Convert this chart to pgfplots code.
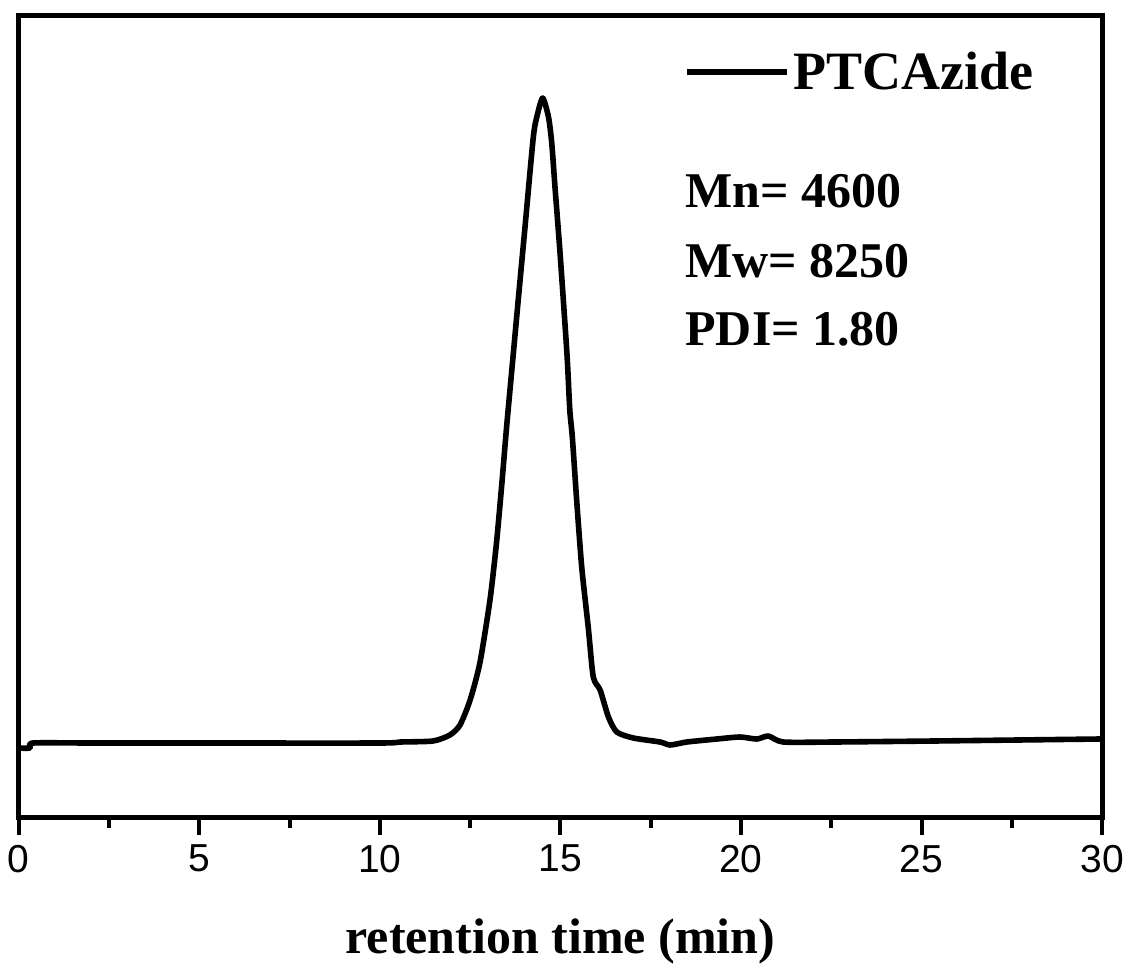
\documentclass[border=0pt]{standalone}
\usepackage{fontspec}
\setmainfont{Liberation Serif}
\newfontfamily\arial{Liberation Sans}
\usepackage{pgfplots}
\pgfplotsset{compat=1.18}
\begin{document}
\begin{tikzpicture}
\useasboundingbox (-9.35pt,-73.75pt) rectangle (554.65pt,408.75pt);
\begin{axis}[
  at={(0,0)}, anchor=south west,
  scale only axis,
  width=541.7pt, height=401pt,
  xmin=0, xmax=30, ymin=-2.5, ymax=799.5,
  axis line style={line width=2.6pt},
  xtick={0,5,...,30},
  minor x tick num=1,
  ytick=\empty,
  xtick pos=bottom,
  tick align=outside,
  major tick length=8.75pt,
  minor tick length=5pt,
  every tick/.style={line width=2pt, black},
  /pgf/number format/assume math mode=true,
  xticklabel style={font=\arial\fontsize{19.5}{22}\selectfont, yshift=-1.5pt},
  xlabel={\bfseries retention time (min)},
  xlabel style={font=\fontsize{25}{30}\selectfont, yshift=-16pt},
  legend style={draw=none, fill=none, at={(axis cs:18.24,743)}, anchor=west,
    font=\bfseries\fontsize{27}{32}\selectfont},
  legend image code/.code={\draw[line width=2.8pt] (-2.5pt,0pt) -- (47.5pt,0pt);},
  legend cell align=left,
]
\addplot[black, line width=2.8pt, smooth, tension=0.4, line join=round] coordinates {
(0,67) (0.31,67) (0.40,72) (2,72) (5,72) (9.98,72) (10.56,73) (11.47,74)
(11.94,80) (12.22,90) (12.50,115) (12.77,152) (13.05,215) (13.23,272)
(13.38,332) (13.51,388) (13.68,455) (13.85,522) (14.02,588) (14.25,678)
(14.36,700) (14.51,717) (14.67,698) (14.76,672) (14.85,628) (14.99,562)
(15.18,462) (15.26,405) (15.33,378)
(15.45,315) (15.59,248) (15.77,188) (15.91,138) (16.10,125) (16.33,98)
(16.56,83) (17.02,77) (17.76,73) (18.04,70) (18.50,73) (19.33,76)
(19.97,78) (20.44,76) (20.76,79) (21.17,73) (22.56,73) (25.33,74)
(29.94,76) (30,76)
};
\addlegendentry{PTCAzide}
\node[anchor=base west, font=\bfseries\fontsize{25}{30}\selectfont, inner sep=0pt] at (axis cs:18.45,608) {Mn= 4600};
\node[anchor=base west, font=\bfseries\fontsize{25}{30}\selectfont, inner sep=0pt] at (axis cs:18.45,538) {Mw= 8250};
\node[anchor=base west, font=\bfseries\fontsize{25}{30}\selectfont, inner sep=0pt] at (axis cs:18.45,470) {PDI= 1.80};
\end{axis}
\end{tikzpicture}
\end{document}
